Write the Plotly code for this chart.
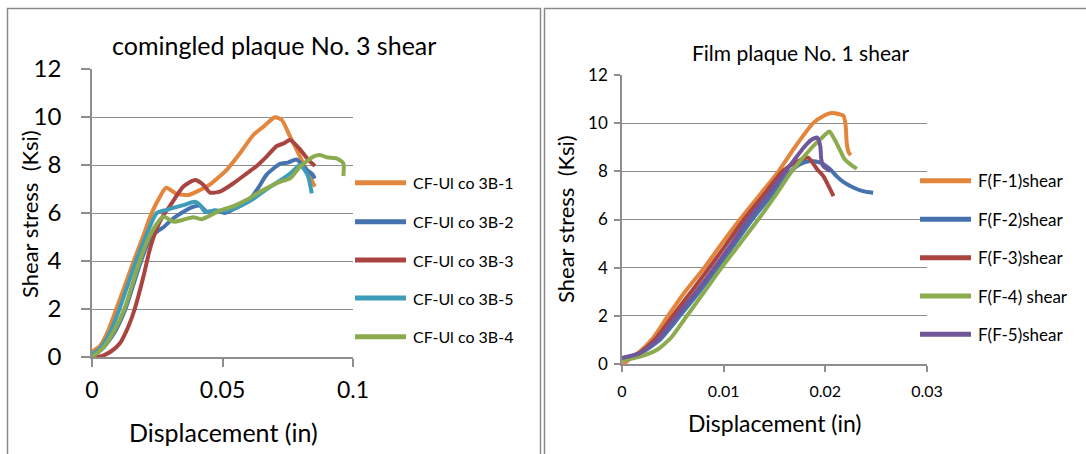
import plotly.graph_objects as go

W, H = 1086, 454
FONT = "Lato"
GRID = "#8E8E8E"

# ---------------- Left chart data: comingled plaque No. 3 shear ----------------
left_names = ["CF-Ul co 3B-1", "CF-Ul co 3B-2", "CF-Ul co 3B-3", "CF-Ul co 3B-5", "CF-Ul co 3B-4"]
left_colors = ["#E3863C", "#4672B0", "#AA4441", "#3D9DB8", "#8CAB4F"]

l1_x = [0, 0.003, 0.006, 0.0093, 0.0127, 0.016, 0.0195, 0.0225, 0.0254, 0.0284, 0.0324, 0.037,
        0.0414, 0.045, 0.0516, 0.0567, 0.0618, 0.0657, 0.0701, 0.0727, 0.0759, 0.0797, 0.0835, 0.0854]
l1_y = [0.22, 0.45, 1.05, 2.0, 3.0, 4.0, 5.0, 5.9, 6.55, 7.05, 6.8, 6.75,
        6.96, 7.17, 7.8, 8.49, 9.25, 9.6, 9.99, 9.88, 9.18, 8.35, 7.51, 7.1]

l2_x = [0, 0.004, 0.0085, 0.0128, 0.0158, 0.0188, 0.0225, 0.0258, 0.0273, 0.0312, 0.0362, 0.0388,
        0.0415, 0.044, 0.047, 0.051, 0.055, 0.06, 0.064, 0.0669, 0.072, 0.075, 0.0784, 0.0822, 0.0845, 0.0854]
l2_y = [0.1, 0.35, 1.0, 2.0, 3.0, 4.0, 5.0, 5.3, 5.4, 5.78, 6.13, 6.26,
        6.3, 6.05, 6.1, 6.0, 6.2, 6.5, 7.1, 7.6, 8.05, 8.1, 8.23, 7.8, 7.6, 7.44]

l3_x = [0.001, 0.004, 0.0075, 0.0107, 0.0139, 0.0164, 0.0197, 0.0221, 0.0248, 0.0273, 0.0299, 0.035,
        0.0395, 0.0427, 0.0452, 0.049, 0.0541, 0.0593, 0.0631, 0.0669, 0.0708, 0.0735, 0.0759, 0.0797,
        0.0829, 0.0854]
l3_y = [0, 0.05, 0.25, 0.57, 1.26, 2.01, 3.35, 4.46, 5.35, 5.9, 6.3, 7.1,
        7.375, 7.17, 6.85, 6.89, 7.23, 7.65, 7.96, 8.35, 8.79, 8.9, 9.04, 8.65,
        8.21, 7.96]

l5_x = [0, 0.003, 0.0068, 0.0105, 0.0137, 0.0169, 0.0205, 0.0248, 0.0286, 0.035, 0.0395, 0.0414,
        0.0433, 0.047, 0.052, 0.057, 0.062, 0.067, 0.072, 0.0765, 0.0797, 0.082, 0.0829, 0.0842]
l5_y = [0.1, 0.35, 1.0, 2.0, 3.0, 4.0, 5.0, 6.0, 6.13, 6.33, 6.47, 6.33,
        6.05, 6.1, 6.1, 6.3, 6.6, 7.0, 7.35, 7.7, 8.0, 7.7, 7.5, 6.82]

l4_x = [0, 0.004, 0.008, 0.0124, 0.0154, 0.0183, 0.0215, 0.0245, 0.0273, 0.0312, 0.035, 0.0388,
        0.042, 0.049, 0.0545, 0.0593, 0.0644, 0.072, 0.0759, 0.0797, 0.0848, 0.0874, 0.0899, 0.0937,
        0.0963, 0.0963]
l4_y = [0, 0.35, 1.0, 2.0, 3.0, 4.0, 4.9, 5.5, 5.85, 5.64, 5.72, 5.82,
        5.74, 6.1, 6.3, 6.55, 6.89, 7.3, 7.44, 7.93, 8.35, 8.42, 8.32, 8.28,
        8.07, 7.54]

left_series = [(l1_x, l1_y), (l2_x, l2_y), (l3_x, l3_y), (l5_x, l5_y), (l4_x, l4_y)]

# ---------------- Right chart data: Film plaque No. 1 shear ----------------
right_names = ["F(F-1)shear", "F(F-2)shear", "F(F-3)shear", "F(F-4) shear", "F(F-5)shear"]
right_colors = ["#E3863C", "#4672B0", "#AA4441", "#8CAB4F", "#70579A"]

r1_x = [0, 0.0008, 0.0017, 0.003, 0.0044, 0.0062, 0.0081, 0.0098, 0.0116, 0.0135, 0.0154, 0.0170,
        0.0188, 0.0198, 0.0206, 0.0213, 0.0218, 0.0220, 0.0221, 0.0223, 0.0225]
r1_y = [-0.05, 0.22, 0.5, 1.05, 1.92, 3.0, 4.0, 5.0, 6.0, 7.0, 8.0, 9.0,
        10.0, 10.3, 10.42, 10.38, 10.3, 9.9, 9.2, 8.78, 8.67]

r2_x = [0, 0.0017, 0.0037, 0.0057, 0.0076, 0.0094, 0.0111, 0.0128, 0.0147, 0.0166, 0.0175, 0.0185,
        0.0195, 0.0205, 0.0211, 0.0218, 0.0228, 0.0237, 0.0247]
r2_y = [0.25, 0.42, 1.0, 2.0, 3.0, 4.0, 5.0, 6.0, 7.0, 8.0, 8.3, 8.43,
        8.36, 8.08, 7.8, 7.55, 7.32, 7.18, 7.11]

r3_x = [0, 0.0017, 0.0032, 0.0050, 0.0068, 0.0086, 0.0103, 0.0120, 0.0139, 0.0158, 0.0172, 0.0183,
        0.0192, 0.0198, 0.0204, 0.0208]
r3_y = [0.2, 0.45, 1.0, 2.0, 3.0, 4.0, 5.0, 6.0, 7.0, 8.0, 8.4, 8.57,
        8.08, 7.8, 7.32, 6.97]

r4_x = [0, 0.0017, 0.0034, 0.0048, 0.0063, 0.0081, 0.0098, 0.0116, 0.0134, 0.0151, 0.0167, 0.0187,
        0.0198, 0.0204, 0.0209, 0.0214, 0.0219, 0.0226, 0.0231]
r4_y = [0.15, 0.3, 0.58, 1.08, 1.95, 3.0, 4.0, 5.0, 6.0, 7.0, 8.0, 9.0,
        9.45, 9.65, 9.33, 8.92, 8.5, 8.25, 8.11]

r5_x = [0, 0.0017, 0.0035, 0.0054, 0.0073, 0.0091, 0.0108, 0.0124, 0.0143, 0.0161, 0.0179, 0.0186,
        0.0192, 0.0195, 0.0196, 0.0198, 0.0205]
r5_y = [0.25, 0.44, 1.0, 2.0, 3.0, 4.0, 5.0, 6.0, 7.0, 8.0, 9.0, 9.3,
        9.4, 9.05, 8.5, 8.22, 8.01]

right_series = [(r1_x, r1_y), (r2_x, r2_y), (r3_x, r3_y), (r4_x, r4_y), (r5_x, r5_y)]

# tick labels
left_x_ticks = [0, 0.05, 0.1]
left_x_labels = ["0", "0.05", "0.1"]
right_x_ticks = [0, 0.01, 0.02, 0.03]
right_x_labels = ["0", "0.01", "0.02", "0.03"]
y_ticks = [0, 2, 4, 6, 8, 10, 12]


def px(x):
    return x / W


def py(y):
    return 1 - y / H


fig = go.Figure()

for (xs, ys), name, col in zip(left_series, left_names, left_colors):
    fig.add_trace(go.Scatter(x=xs, y=ys, mode="lines", name=name, xaxis="x", yaxis="y",
                             line=dict(color=col, width=4, shape="spline", smoothing=0.6),
                             showlegend=False))
for (xs, ys), name, col in zip(right_series, right_names, right_colors):
    fig.add_trace(go.Scatter(x=xs, y=ys, mode="lines", name=name, xaxis="x2", yaxis="y2",
                             line=dict(color=col, width=4, shape="spline", smoothing=0.6),
                             showlegend=False))

axis_common = dict(showline=True, linecolor=GRID, linewidth=1.5, ticks="outside",
                   tickcolor=GRID, tickwidth=1.5, zeroline=False, automargin=False)

fig.update_layout(
    width=W, height=H, margin=dict(l=0, r=0, t=0, b=0, pad=0), autosize=False,
    showlegend=False,
    paper_bgcolor="white", plot_bgcolor="white",
    font=dict(family=FONT, color="#000000"),
    xaxis=dict(domain=[px(92), px(353)], range=[0, 0.1], tickvals=left_x_ticks, ticktext=left_x_labels,
               showgrid=False, ticklen=8, tickfont=dict(size=23), ticklabelstandoff=4,
               anchor="y", **axis_common),
    yaxis=dict(domain=[py(357), py(69)], range=[0, 12], tickvals=y_ticks, showgrid=True,
               gridcolor=GRID, gridwidth=1.3, ticklen=9, tickfont=dict(size=24), ticklabelstandoff=15,
               anchor="x", **axis_common),
    xaxis2=dict(domain=[px(622), px(927)], range=[0, 0.03], tickvals=right_x_ticks, ticktext=right_x_labels,
                showgrid=False, ticklen=6, tickfont=dict(size=16), ticklabelstandoff=6,
                anchor="y2", **axis_common),
    yaxis2=dict(domain=[py(364), py(75)], range=[0, 12], tickvals=y_ticks, showgrid=True,
                gridcolor=GRID, gridwidth=1.3, ticklen=6, tickfont=dict(size=17), ticklabelstandoff=3,
                anchor="x2", **axis_common),
)

shapes = []
# panel frames
shapes.append(dict(type="rect", xref="paper", yref="paper", x0=px(7.5), x1=px(540.5), y0=-0.02, y1=py(8.5),
                   line=dict(color="#8A8A8A", width=1.5), fillcolor="rgba(0,0,0,0)", layer="below"))
shapes.append(dict(type="rect", xref="paper", yref="paper", x0=px(544.5), x1=1.02, y0=-0.02, y1=py(8.5),
                   line=dict(color="#8A8A8A", width=1.5), fillcolor="rgba(0,0,0,0)", layer="below"))

annotations = []
# titles
annotations.append(dict(text="comingled plaque No. 3 shear", x=px(274), y=py(45), xref="paper", yref="paper",
                        showarrow=False, font=dict(size=25), xanchor="center", yanchor="middle"))
annotations.append(dict(text="Film plaque No. 1 shear", x=px(800), y=py(52), xref="paper", yref="paper",
                        showarrow=False, font=dict(size=21), xanchor="center", yanchor="middle"))
# axis titles
annotations.append(dict(text="Displacement (in)", x=px(223), y=py(432), xref="paper", yref="paper",
                        showarrow=False, font=dict(size=25), xanchor="center", yanchor="middle"))
annotations.append(dict(text="Shear stress\u00a0\u00a0(Ksi)", x=px(29), y=py(214), xref="paper", yref="paper",
                        showarrow=False, font=dict(size=22), textangle=-90, xanchor="center", yanchor="middle"))
annotations.append(dict(text="Displacement (in)", x=px(775), y=py(423), xref="paper", yref="paper",
                        showarrow=False, font=dict(size=23), xanchor="center", yanchor="middle"))
annotations.append(dict(text="Shear stress\u00a0\u00a0(Ksi)", x=px(565), y=py(219), xref="paper", yref="paper",
                        showarrow=False, font=dict(size=22), textangle=-90, xanchor="center", yanchor="middle"))

# legends (drawn manually to match the long sample lines)
left_rows = [182.7, 221.7, 260, 298, 336.7]
for name, col, yy in zip(left_names, left_colors, left_rows):
    shapes.append(dict(type="line", xref="paper", yref="paper", x0=px(355), x1=px(406), y0=py(yy), y1=py(yy),
                       line=dict(color=col, width=5)))
    annotations.append(dict(text=name, x=px(411), y=py(yy), xref="paper", yref="paper", showarrow=False,
                            font=dict(size=16), xanchor="left", yanchor="middle"))
right_rows = [180.7, 219.3, 257.7, 296, 334.3]
for name, col, yy in zip(right_names, right_colors, right_rows):
    shapes.append(dict(type="line", xref="paper", yref="paper", x0=px(920), x1=px(971), y0=py(yy), y1=py(yy),
                       line=dict(color=col, width=5)))
    annotations.append(dict(text=name, x=px(976), y=py(yy), xref="paper", yref="paper", showarrow=False,
                            font=dict(size=17), xanchor="left", yanchor="middle"))

fig.update_layout(shapes=shapes, annotations=annotations)
fig.write_html("out.html", config={"displayModeBar": False},
               post_script="document.body.style.margin='0';document.body.style.overflow='hidden';")
